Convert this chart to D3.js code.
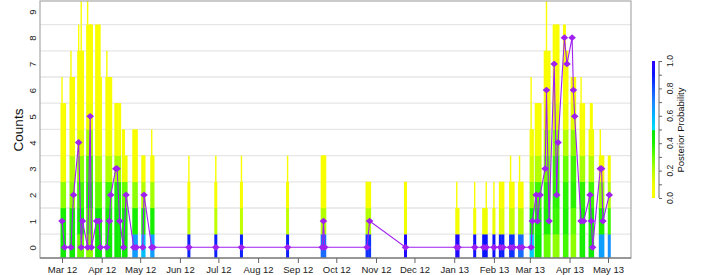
<!DOCTYPE html>
<html>
<head>
<meta charset="utf-8">
<script src="https://cdn.jsdelivr.net/npm/d3@7"></script>
<style>
  body { margin: 0; background: #fff; }
  svg { display: block; }
  text { font-family: "Liberation Sans", Arial, sans-serif; }
</style>
</head>
<body>
<svg id="chart" width="706" height="275"></svg>
<script>
// observation dates and observed counts (purple points)
const obsDates = [
  "2012-03-01","2012-03-03","2012-03-08","2012-03-10","2012-03-14","2012-03-16","2012-03-17",
  "2012-03-21","2012-03-23","2012-03-24","2012-03-28","2012-03-30","2012-03-31","2012-04-05",
  "2012-04-07","2012-04-08","2012-04-12","2012-04-13","2012-04-15","2012-04-18","2012-04-20",
  "2012-04-26","2012-04-28","2012-05-03","2012-05-04","2012-05-10","2012-05-11","2012-06-08",
  "2012-06-29","2012-07-19","2012-08-24","2012-09-20","2012-09-21","2012-09-22","2012-10-25",
  "2012-10-27","2012-11-24","2013-01-03","2013-01-04","2013-01-17","2013-01-24","2013-01-26",
  "2013-02-01","2013-02-06","2013-02-08","2013-02-14","2013-02-16","2013-02-21","2013-02-23",
  "2013-03-02","2013-03-03","2013-03-06","2013-03-07","2013-03-09","2013-03-13","2013-03-14",
  "2013-03-16","2013-03-20","2013-03-22","2013-03-23","2013-03-28","2013-03-30","2013-04-03",
  "2013-04-04","2013-04-05","2013-04-10","2013-04-12","2013-04-17","2013-04-18","2013-04-19",
  "2013-04-25","2013-04-26","2013-04-27","2013-05-02"
];
const obsCounts = [
  1,0,0,2,4,0,1, 0,5,0,1,1,0,0, 1,2,3,3,1,0,2, 0,0,0,2,0,0,0,
  0,0,0,0,1,0,0, 1,0,0,0,0,0,0, 0,0,0,0,0,0,0,
  0,1,2,1,2,3,6, 1,7,2,4,8,7,8, 6,5,1,1,2,1,0, 3,3,1,2
];
// highest count level of each posterior bar, and of its thin tip
const barTop = [
  5,5,6,6,7,7,7, 8,8,8,8,8,6,6, 6,6,5,5,5,4,3, 4,4,3,3,3,3,2,
  2,2,2,3,3,3,2, 2,2,1,1,1,1,1, 1,2,2,2,2,2,2,
  4,4,5,5,5,7,7, 7,8,8,8,8,7,6, 5,6,5,5,4,5,4, 3,3,3,3
];
const barTip = [
  6,5,7,6,8,9,7, 10,8,8,8,8,6,7, 6,6,5,5,5,4,3, 4,4,3,3,4,3,3,
  3,3,3,3,3,3,2, 2,2,2,1,2,1,2, 2,2,2,3,2,3,2,
  6,4,5,5,5,7,10, 7,8,8,8,8,7,6, 6,6,6,5,4,5,4, 4,3,3,3
];
// posterior probability of each count level (0,1,2,...) per bar; higher levels ~0.03
const barProbs = [
  [.45,.42,.25,.08],[.45,.42,.25,.08],[.45,.42,.25,.2,.08],[.45,.42,.25,.2,.08],
  [.3,.42,.35,.25,.12],[.3,.42,.35,.25,.12],[.3,.42,.35,.25,.12],
  [.25,.32,.4,.35,.22,.1],[.25,.32,.4,.35,.22,.1],[.25,.32,.4,.35,.22,.1],
  [.45,.42,.3,.2,.08],[.45,.42,.3,.2,.08],[.45,.42,.3,.2,.08],
  [.45,.42,.35,.2,.08],[.45,.42,.35,.2,.08],[.45,.42,.35,.2,.08],
  [.45,.45,.4,.22,.08],[.45,.45,.4,.22,.08],[.45,.45,.4,.22,.08],
  [.45,.42,.3,.08],[.45,.42,.3,.08],
  [.65,.42,.25,.06],[.65,.42,.25,.06],[.58,.4,.2,.05],[.58,.4,.2,.05],
  [.65,.42,.22,.06],[.65,.42,.22,.06],
  [.88,.18,.05],[.88,.18,.05],[.88,.18,.05],[.88,.18,.05],
  [.75,.2,.05],[.75,.2,.05],[.75,.2,.05],
  [.85,.2,.05],[.85,.2,.05],[.95,.08,.03],
  [.95,.06],[.95,.06],[.92,.07],[.9,.1],[.9,.1],[.9,.1],
  [.88,.12,.03],[.88,.12,.03],[.85,.17,.04],[.85,.17,.04],[.75,.2,.05],[.75,.2,.05],
  [.55,.42,.25,.15,.06],[.55,.42,.25,.15,.06],
  [.45,.42,.35,.2,.08],[.45,.42,.35,.2,.08],[.45,.42,.35,.2,.08],
  [.3,.4,.38,.28,.2,.08],[.3,.4,.38,.28,.2,.08],[.3,.4,.38,.28,.2,.08],
  [.25,.36,.38,.36,.25,.12],[.25,.36,.38,.36,.25,.12],[.25,.36,.38,.36,.25,.12],
  [.35,.4,.38,.3,.2,.1],[.35,.4,.38,.3,.2,.1],
  [.25,.3,.38,.35,.25,.12],[.25,.3,.38,.35,.25,.12],[.25,.3,.38,.35,.25,.12],
  [.42,.42,.38,.22,.1],[.42,.42,.38,.22,.1],
  [.45,.42,.35,.2,.08],[.45,.42,.35,.2,.08],[.45,.42,.35,.2,.08],
  [.65,.4,.25,.06],[.65,.4,.25,.06],[.65,.4,.25,.06],[.68,.35,.2,.06]
];
const yTicks = [0,1,2,3,4,5,6,7,8,9];
const gridLevels = [0.5,1.5,2.5,3.5,4.5,5.5,6.5,7.5,8.5];
const legendTicks = [0,0.1,0.2,0.3,0.4,0.5,0.6,0.7,0.8,0.9,1];
const legendLabels = [0,0.2,0.4,0.6,0.8,1];

const svg = d3.select("#chart");
const parseDate = d3.timeParse("%Y-%m-%d");

const plot = { left: 40, right: 631, top: 1, bottom: 258 };

const x = d3.scaleTime()
  .domain([parseDate("2012-03-01"), parseDate("2013-05-01")])
  .range([62, 608]);
const y = d3.scaleLinear().domain([0, 9]).range([247.3, 11.5]);

// colour ramp: yellow -> green below 0.5, cyan -> blue above
const lowColor = d3.scaleLinear().domain([0, 0.1, 0.2, 0.3, 0.4, 0.5])
  .range(["#ffff00", "#eeff00", "#b4ff00", "#66ff00", "#1cf000", "#00e400"]).clamp(true);
const highColor = d3.scaleLinear().domain([0.5, 0.6, 0.7, 0.8, 0.9, 1])
  .range(["#00e0f0", "#00b4ff", "#1e88ff", "#1450ff", "#0a14ff", "#3300ff"]).clamp(true);
const probColor = p => p < 0.5 ? lowColor(p) : highColor(p);

const obs = obsDates.map((d, i) => ({
  date: parseDate(d), count: obsCounts[i], top: barTop[i], tip: barTip[i], probs: barProbs[i]
}));

svg.append("clipPath").attr("id", "clip").append("rect")
  .attr("x", plot.left).attr("y", plot.top)
  .attr("width", plot.right - plot.left).attr("height", plot.bottom - plot.top);

// grid
svg.append("g").selectAll("line").data(gridLevels).enter().append("line")
  .attr("x1", plot.left).attr("x2", plot.right)
  .attr("y1", d => y(d)).attr("y2", d => y(d))
  .attr("stroke", "#e6e6e6").attr("stroke-width", 1.3);

const bars = svg.append("g").attr("clip-path", "url(#clip)");

function cells(o, maxLevel) {
  const out = [];
  for (let k = 0; k <= maxLevel; k++) {
    out.push({ date: o.date, level: k, p: k < o.probs.length ? o.probs[k] : 0.03 });
  }
  return out;
}

// thin tips first, wide bars on top
obs.forEach(o => {
  bars.selectAll(null).data(cells(o, o.tip)).enter().append("rect")
    .attr("x", d => x(d.date) - 0.7).attr("width", 1.4)
    .attr("y", d => y(d.level + 0.5)).attr("height", d => y(d.level - 0.5) - y(d.level + 0.5))
    .attr("fill", d => probColor(d.p));
});
obs.forEach(o => {
  bars.selectAll(null).data(cells(o, o.top)).enter().append("rect")
    .attr("x", d => x(d.date) - 1.5).attr("width", 3)
    .attr("y", d => y(d.level + 0.5)).attr("height", d => y(d.level - 0.5) - y(d.level + 0.5) + 0.2)
    .attr("fill", d => probColor(d.p));
});

// observed counts
const line = d3.line().x(d => x(d.date)).y(d => y(d.count));
svg.append("path").datum(obs)
  .attr("d", line).attr("fill", "none")
  .attr("stroke", "#a020f0").attr("stroke-width", 1.1);

svg.append("g").selectAll("path").data(obs).enter().append("path")
  .attr("d", "M0,-3.4L3.8,0L0,3.4L-3.8,0Z")
  .attr("transform", d => `translate(${x(d.date)},${y(d.count)})`)
  .attr("fill", "#a020f0");

// frame
svg.append("rect")
  .attr("x", plot.left).attr("y", plot.top)
  .attr("width", plot.right - plot.left).attr("height", plot.bottom - plot.top)
  .attr("fill", "none").attr("stroke", "#a8a8a8").attr("stroke-width", 1.2);
svg.append("line")
  .attr("x1", plot.left).attr("x2", plot.right)
  .attr("y1", plot.bottom).attr("y2", plot.bottom)
  .attr("stroke", "#666").attr("stroke-width", 1.2);

// x axis
const xAxis = svg.append("g").attr("transform", `translate(0,${plot.bottom})`)
  .call(d3.axisBottom(x).ticks(d3.timeMonth.every(1)).tickFormat(d3.timeFormat("%b %y"))
    .tickSize(5).tickPadding(3));
xAxis.select(".domain").remove();
xAxis.selectAll("line").attr("stroke", "#666");
xAxis.selectAll("text").attr("font-size", "9.5px").attr("fill", "#222")
  .style("font-family", "'Liberation Sans', Arial, sans-serif");

// y axis (rotated labels, no ticks)
const yAxis = svg.append("g").attr("transform", `translate(${plot.left},0)`)
  .call(d3.axisLeft(y).tickValues(yTicks).tickSize(0));
yAxis.select(".domain").remove();
yAxis.selectAll("text")
  .attr("x", 0).attr("dy", 0).attr("text-anchor", "middle")
  .attr("transform", "translate(-3.6,0) rotate(-90)")
  .attr("font-size", "9.5px").attr("fill", "#222")
  .style("font-family", "'Liberation Sans', Arial, sans-serif");

svg.append("text")
  .attr("transform", "translate(23,130) rotate(-90)")
  .attr("text-anchor", "middle").attr("font-size", "13.5px").attr("fill", "#111")
  .text("Counts");

// colour legend
const lg = { x: 652, w: 3, top: 61, bottom: 198, axis: 659 };
const ly = d3.scaleLinear().domain([0, 1]).range([lg.bottom, lg.top]);
const grad = svg.append("defs").append("linearGradient").attr("id", "ramp")
  .attr("x1", 0).attr("x2", 0).attr("y1", 1).attr("y2", 0);
d3.range(0, 1.0001, 0.01).forEach(p => {
  grad.append("stop").attr("offset", p).attr("stop-color", probColor(p));
});
svg.append("rect").attr("x", lg.x).attr("y", lg.top)
  .attr("width", lg.w).attr("height", lg.bottom - lg.top)
  .attr("fill", "url(#ramp)");

const lAxis = svg.append("g").attr("transform", `translate(${lg.axis},0)`)
  .call(d3.axisRight(ly).tickValues(legendTicks).tickSize(3).tickFormat(""));
lAxis.select(".domain").attr("stroke", "#666").attr("d", `M0,${lg.bottom}V${lg.top}`);
lAxis.selectAll("line").attr("stroke", "#666");

svg.append("g").selectAll("text").data(legendLabels).enter().append("text")
  .attr("transform", d => `translate(672.5,${ly(d)}) rotate(-90)`)
  .attr("text-anchor", "middle").attr("font-size", "8.5px").attr("fill", "#222")
  .text(d => d3.format(".1f")(d));

svg.append("text")
  .attr("transform", "translate(683.5,130) rotate(-90)")
  .attr("text-anchor", "middle").attr("font-size", "9.5px").attr("fill", "#111")
  .text("Posterior Probability");
</script>
</body>
</html>
